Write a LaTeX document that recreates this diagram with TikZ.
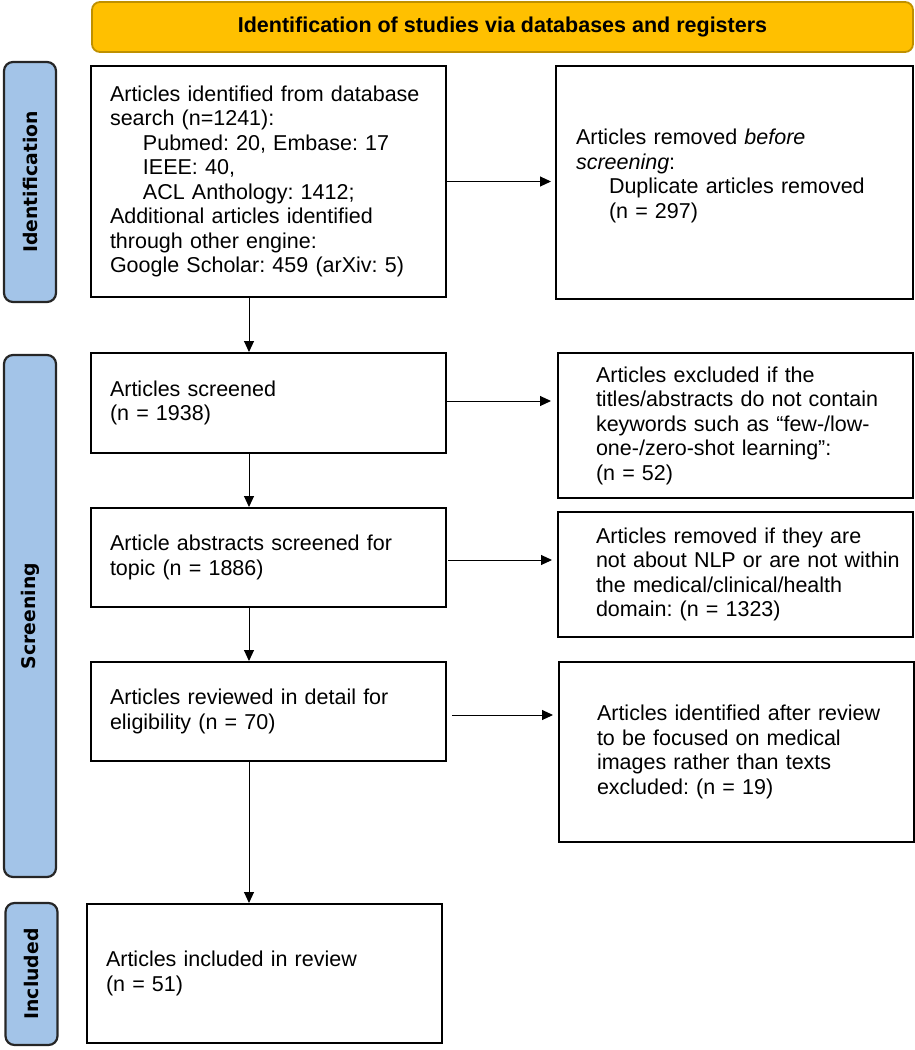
\documentclass[tikz,border=0pt]{standalone}
\usepackage{fontspec}
\setmainfont{Liberation Sans}
\newfontfamily\sidefont{DejaVu Sans}
\usetikzlibrary{
  arrows.meta,
  positioning,  % relative placement
  calc,         % coordinate calculations
}
\definecolor{hdrfill}{HTML}{FFC000}
\definecolor{hdrdraw}{HTML}{BF9000}
\definecolor{sidefill}{HTML}{A3C4E8}
\definecolor{sidedraw}{HTML}{262626}
\def\boxw{177.5pt}
\def\inset{9.5pt}
\def\indent{16.5pt}
\frenchspacing
\tikzset{
  font=\fontsize{10.75pt}{12.25pt}\selectfont,
  x=0.5pt,
  y=-0.5pt,
  >={Triangle[length=5.5pt,width=5pt]},
  my header/.style={
    draw=hdrdraw,
    fill=hdrfill,
    line width=0.9pt,
    rounded corners=4pt,
    minimum width=410.5pt,
    minimum height=25pt,
    font=\fontsize{10.75pt}{12pt}\selectfont\bfseries
  },
  my side/.style={
    draw=sidedraw,
    fill=sidefill,
    line width=1.1pt,
    rounded corners=4.5pt,
    rotate=90,
    minimum height=26pt,
    font=\sidefont\fontsize{9.4pt}{10pt}\selectfont\bfseries
  },
  my box/.style={
    draw,
    line width=1pt,
    rectangle,
    align=left,
    text width=158.5pt,
    inner xsep=\inset,
    inner ysep=0pt,
    minimum width=\boxw
  },
  my wide box/.style={
    my box,
    text width=\boxw,
    inner xsep=0pt,
    execute at begin node={\leftskip=19pt}
  },
  my arrow/.style={
    ->,
    line width=0.5pt
  }
}

\begin{document}
\begin{tikzpicture}
\useasboundingbox (0,0) rectangle (915,1050);
% heading and phase labels
\node[my header] (hdr) at (502.5,27) {Identification of studies via databases and registers};
\node[my side,minimum width=120pt]   (sideid)  at (30,182)    {Identification};
\node[my side,minimum width=261pt]   (sidescr) at (30,616)    {Screening};
\node[my side,minimum width=71pt]    (sideinc) at (31.5,974)  {Included};
% main column
\node[my box,minimum height=115.5pt] (ident)    at (268.5,181.5) {Articles identified from database\\
  search (n=1241):\\
  \hspace*{\indent}Pubmed: 20, Embase: 17\\
  \hspace*{\indent}IEEE: 40,\\
  \hspace*{\indent}ACL Anthology: 1412;\\
  Additional articles identified\\
  through other engine:\\
  Google Scholar: 459 (arXiv: 5)};
\node[my box,minimum height=50pt]    (screened) at (268.5,403)   {Articles screened\\(n = 1938)};
\node[my box,minimum height=49.5pt]  (abstr)    at (268.5,557.5) {Article abstracts screened for\\topic (n = 1886)};
\node[my box,minimum height=49.5pt]  (review)   at (268.5,711.5) {Articles reviewed in detail for\\eligibility (n = 70)};
\node[my box,minimum height=69.5pt]  (incl)     at (264.5,973.5) {Articles included in review\\(n = 51)};
% side column
\node[my box,minimum width=178.5pt,minimum height=116.5pt] (removed) at (734.5,182.5)
  {Articles removed \textit{before}\\
  \textit{screening}:\\
  \hspace*{\indent}Duplicate articles removed\\
  \hspace*{\indent}(n = 297)\\[-3.25pt]\mbox{}};
\node[my wide box,minimum height=72.5pt] (excl)     at (735.5,425.5) {Articles excluded if the\\
  titles/abstracts do not contain\\
  keywords such as “few-/low-\\
  one-/zero-shot learning”:\\
  (n = 52)};
\node[my wide box,minimum height=62.5pt] (remtopic) at (735.5,574.5) {Articles removed if they are\\
  not about NLP or are not within\\
  the medical/clinical/health\\
  domain: (n = 1323)};
\node[my wide box,minimum height=90pt] (imgexcl)    at (736.5,752)   {Articles identified after review\\
  to be focused on medical\\
  images rather than texts\\
  excluded: (n = 19)};
% connectors
\coordinate (colx) at (249,0);
\draw[my arrow] (ident.south -| colx)    -- (screened.north -| colx);
\draw[my arrow] (screened.south -| colx) -- (abstr.north -| colx);
\draw[my arrow] (abstr.south -| colx)    -- (review.north -| colx);
\draw[my arrow] (review.south -| colx)   -- (incl.north -| colx);
\draw[my arrow,shorten >=2pt] (ident.east)    -- (ident.east -| removed.west);
\draw[my arrow,shorten >=3pt] ($(screened.east)+(0,-2)$) -- ($(screened.east -| excl.west)+(0,-2)$);
\draw[my arrow,shorten >=2.5pt] ($(abstr.east)+(1,2.5)$) -- ($(abstr.east -| remtopic.west)+(0,2.5)$);
\draw[my arrow,shorten >=2.5pt] ($(review.east)+(5,3.5)$) -- ($(review.east -| imgexcl.west)+(0,3.5)$);
\end{tikzpicture}
\end{document}
